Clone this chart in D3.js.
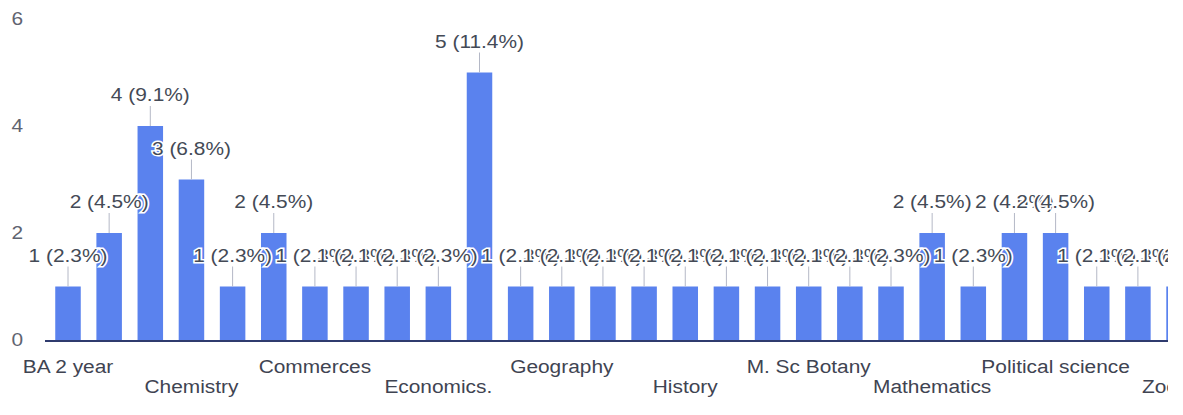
<!DOCTYPE html>
<html>
<head>
<meta charset="utf-8">
<script src="https://cdn.jsdelivr.net/npm/d3@7"></script>
<style>
  html, body { margin: 0; padding: 0; background: #fff; }
  svg { display: block; }
  text { font-family: Arial, "Liberation Sans", sans-serif; }
</style>
</head>
<body>
<div id="chart"></div>
<script>
// Responses per subject (only every 3rd name is printed on the axis)
const counts = [1, 2, 4, 3, 1, 2, 1, 1, 1, 1, 5, 1, 1, 1, 1, 1, 1, 1, 1, 1, 1, 2, 1, 2, 2, 1, 1, 1];
const tickLabels = [
  'BA 2 year', '', '', 'Chemistry', '', '', 'Commerces', '', '', 'Economics.', '', '',
  'Geography', '', '', 'History', '', '', 'M. Sc Botany', '', '', 'Mathematics', '', '',
  'Political science', '', '', 'Zoology'
];
const yTicks = [0, 2, 4, 6];
const totalResponses = 44;

document.addEventListener('DOMContentLoaded', function() {
  const width = 1183;
  const height = 415;
  const clipRight = 1168;
  const stretch = 1.16; // text in the scan is a bit wider than tall

  const svg = d3.select('#chart')
    .append('svg')
    .attr('width', width)
    .attr('height', height);

  svg.append('defs').append('clipPath')
    .attr('id', 'plot-clip')
    .append('rect')
    .attr('x', 0)
    .attr('y', 0)
    .attr('width', clipRight)
    .attr('height', height);

  // Scales
  const step = 41.15;
  const x = d3.scaleBand()
    .domain(d3.range(counts.length))
    .range([68 - step / 2, 68 - step / 2 + step * counts.length])
    .paddingInner(0.38)
    .paddingOuter(0.19);

  const y = d3.scaleLinear()
    .domain([0, 6])
    .range([340, 19]);

  // Y axis labels
  svg.append('g')
    .selectAll('text')
    .data(yTicks)
    .join('text')
    .attr('transform', d => `translate(23,${y(d)}) scale(${stretch},1)`)
    .attr('dy', '0.35em')
    .attr('text-anchor', 'end')
    .attr('font-size', 18)
    .attr('fill', '#5f6470')
    .text(d => d);

  const plot = svg.append('g').attr('clip-path', 'url(#plot-clip)');

  // Bars
  plot.append('g')
    .selectAll('rect')
    .data(counts)
    .join('rect')
    .attr('x', (d, i) => x(i))
    .attr('y', d => y(d))
    .attr('width', x.bandwidth())
    .attr('height', d => y(0) - y(d))
    .attr('fill', '#5a82ee');

  // Baseline
  plot.append('line')
    .attr('x1', 45)
    .attr('x2', clipRight)
    .attr('y1', y(0) + 1)
    .attr('y2', y(0) + 1)
    .attr('stroke', '#2f3b6e')
    .attr('stroke-width', 2);

  // Leader lines from annotation to bar top
  plot.append('g')
    .selectAll('line')
    .data(counts)
    .join('line')
    .attr('x1', (d, i) => x(i) + x.bandwidth() / 2)
    .attr('x2', (d, i) => x(i) + x.bandwidth() / 2)
    .attr('y1', d => y(d) - 20)
    .attr('y2', d => y(d))
    .attr('stroke', '#b4b8c6')
    .attr('stroke-width', 1);

  // Annotations, drawn in order so later ones cover earlier ones
  plot.append('g')
    .selectAll('text')
    .data(counts)
    .join('text')
    .attr('transform', (d, i) => `translate(${x(i) + x.bandwidth() / 2},${y(d) - 25}) scale(${stretch},1)`)
    .attr('text-anchor', 'middle')
    .attr('font-size', 18)
    .attr('fill', '#444a56')
    .attr('stroke', '#fff')
    .attr('stroke-width', 3)
    .attr('paint-order', 'stroke')
    .text(d => `${d} (${(d / totalResponses * 100).toFixed(1)}%)`);

  // X axis labels, two alternating rows
  const shown = tickLabels
    .map((label, i) => ({ label, i }))
    .filter(d => d.label !== '');

  plot.append('g')
    .selectAll('text')
    .data(shown)
    .join('text')
    .attr('transform', (d, k) => `translate(${x(d.i) + x.bandwidth() / 2},${k % 2 === 0 ? 373 : 393}) scale(${stretch},1)`)
    .attr('text-anchor', 'middle')
    .attr('font-size', 18)
    .attr('fill', '#3f4452')
    .text(d => d.label);
});
</script>
</body>
</html>
